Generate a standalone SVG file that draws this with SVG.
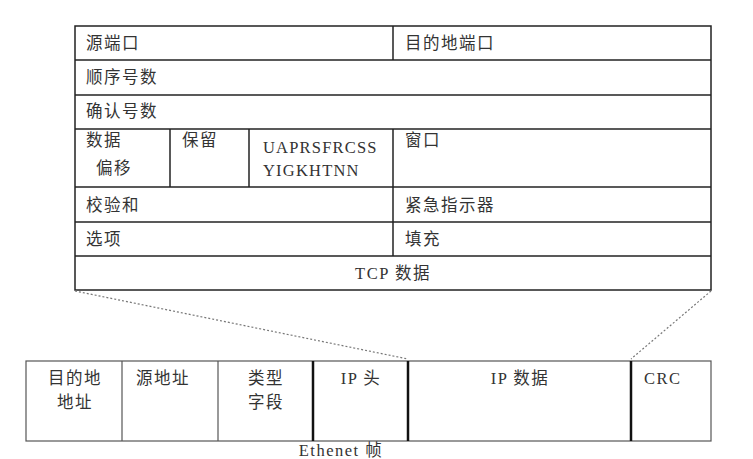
<svg xmlns="http://www.w3.org/2000/svg" width="753" height="459" viewBox="0 0 753 459">
<style>
.cell{fill:#fff;stroke:#222;stroke-width:1.5}
.thin{fill:none;stroke:#555;stroke-width:1.2}
.div{stroke:#222;stroke-width:1.5}
.thick{stroke:#111;stroke-width:2.5}
.t{font-family:"Liberation Serif","Noto Sans CJK SC",serif;font-size:16.5px;fill:#333;letter-spacing:1.5px}
.c{text-anchor:middle}
.dot{fill:none;stroke:#777;stroke-width:1.2;stroke-dasharray:2 2}
</style>
<rect width="753" height="459" fill="#fff"/>
<g id="tcp-header">
<rect class="cell" x="75" y="26" width="636" height="264"/>
<line class="div" x1="75" y1="60" x2="711" y2="60"/>
<line class="div" x1="75" y1="95" x2="711" y2="95"/>
<line class="div" x1="75" y1="129" x2="711" y2="129"/>
<line class="div" x1="75" y1="187" x2="711" y2="187"/>
<line class="div" x1="75" y1="222" x2="711" y2="222"/>
<line class="div" x1="75" y1="256" x2="711" y2="256"/>
<line class="div" x1="393" y1="26" x2="393" y2="60"/>
<line class="div" x1="393" y1="129" x2="393" y2="256"/>
<line class="div" x1="170" y1="129" x2="170" y2="187"/>
<line class="div" x1="249" y1="129" x2="249" y2="187"/>
</g>
<g id="tcp-labels">
<text class="t" x="86" y="49">源端口</text>
<text class="t" x="405" y="49">目的地端口</text>
<text class="t" x="86" y="83">顺序号数</text>
<text class="t" x="86" y="117">确认号数</text>
<text class="t" x="86" y="146">数据</text>
<text class="t" x="96" y="174">偏移</text>
<text class="t" x="182" y="146">保留</text>
<text class="t" x="263" y="153" style="letter-spacing:1.2px">UAPRSFRCSS</text>
<text class="t" x="263" y="176" style="letter-spacing:1.2px">YIGKHTNN</text>
<text class="t" x="405" y="146">窗口</text>
<text class="t" x="86" y="211">校验和</text>
<text class="t" x="405" y="211">紧急指示器</text>
<text class="t" x="86" y="245">选项</text>
<text class="t" x="405" y="245">填充</text>
<text class="t c" x="393" y="279">TCP 数据</text>
</g>
<g id="connectors">
<line class="dot" x1="75" y1="291" x2="408" y2="359"/>
<line class="dot" x1="711" y1="291" x2="631" y2="359"/>
</g>
<g id="ethernet-frame">
<rect class="thin" x="26" y="361" width="685" height="80"/>
<line class="thin" x1="122" y1="361" x2="122" y2="441"/>
<line class="thin" x1="218" y1="361" x2="218" y2="441"/>
<line class="thick" x1="313" y1="361" x2="313" y2="441"/>
<line class="thick" x1="408" y1="361" x2="408" y2="441"/>
<line class="thick" x1="631" y1="361" x2="631" y2="441"/>
</g>
<g id="ethernet-labels">
<text class="t c" x="75" y="384">目的地</text>
<text class="t c" x="75" y="408">地址</text>
<text class="t c" x="163" y="384">源地址</text>
<text class="t c" x="266" y="384">类型</text>
<text class="t c" x="266" y="408">字段</text>
<text class="t c" x="361" y="384">IP 头</text>
<text class="t c" x="520" y="384">IP 数据</text>
<text class="t" x="644" y="384">CRC</text>
<text class="t c" x="341" y="456">Ethenet 帧</text>
</g>
</svg>
